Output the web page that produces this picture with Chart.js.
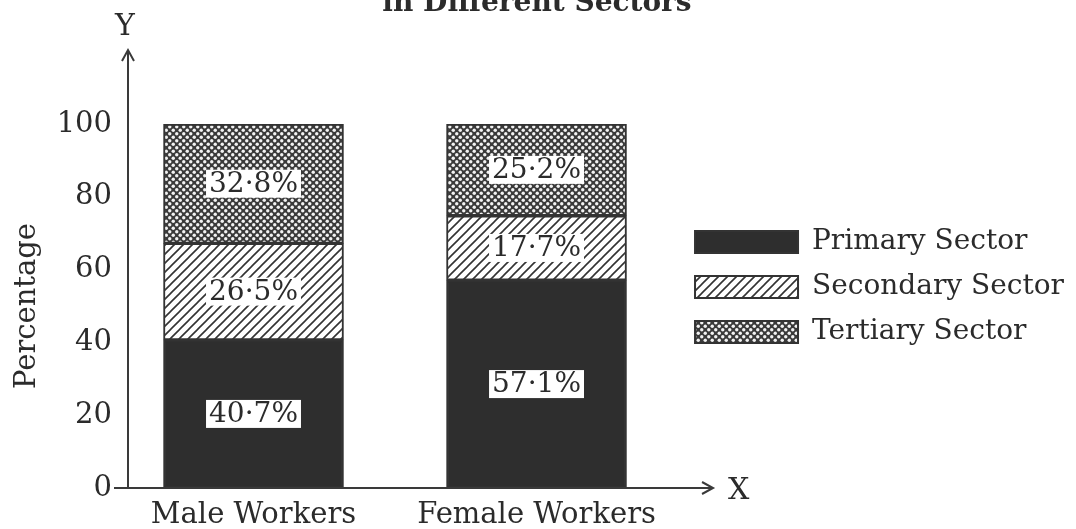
<!DOCTYPE html>
<html>
<head>
<meta charset="utf-8">
<script src="https://cdn.jsdelivr.net/npm/chart.js@4/dist/chart.umd.min.js"></script>
<style>
  html, body { margin: 0; padding: 0; background: #ffffff; overflow: hidden; }
  #wrap { position: relative; width: 1076px; height: 529px; overflow: hidden; }
  #chart { position: absolute; left: 0; top: -22px; }
</style>
</head>
<body>
<div id="wrap"><canvas id="chart" width="1076" height="555"></canvas></div>
<script>
const categories = ['Male Workers', 'Female Workers'];
const sectorNames = ['Primary Sector', 'Secondary Sector', 'Tertiary Sector'];
const primary = [40.7, 57.1];
const secondary = [26.5, 17.7];
const tertiary = [32.8, 25.2];
const yTicks = [0, 20, 40, 60, 80, 100];

const ink = '#2b2b2b';
const serif = 'DejaVu Serif, serif';
const axisGap = 16; // the drawn y axis sits a bit right of the plot's left edge

// fill patterns like the printed book
function makeTile(w, h, draw) {
  const c = document.createElement('canvas');
  c.width = w; c.height = h;
  draw(c.getContext('2d'), w, h);
  return c.getContext('2d').createPattern(c, 'repeat');
}

const hatch = makeTile(9, 9, (g, w, h) => {
  g.fillStyle = '#fff';
  g.fillRect(0, 0, w, h);
  g.strokeStyle = '#333';
  g.lineWidth = 1.6;
  g.beginPath();
  g.moveTo(-1, h + 1); g.lineTo(w + 1, -1);
  g.moveTo(-1, 1); g.lineTo(1, -1);
  g.moveTo(w - 1, h + 1); g.lineTo(w + 1, h - 1);
  g.stroke();
});

const dots = makeTile(7, 7, (g, w, h) => {
  g.fillStyle = '#3a3a3a';
  g.fillRect(0, 0, w, h);
  g.fillStyle = '#f2f2f2';
  [[1.75, 1.75], [5.25, 5.25]].forEach(([px, py]) => {
    g.beginPath(); g.arc(px, py, 1.7, 0, Math.PI * 2); g.fill();
  });
});

// arrows for the axes, plus the X and Y letters
const axesPlugin = {
  id: 'axes',
  afterDraw(chart) {
    const { ctx, chartArea, scales: { y } } = chart;
    const y0 = y.getPixelForValue(0);
    const left = chartArea.left + axisGap;
    const topTip = y.getPixelForValue(100) - 74;
    const rightTip = chartArea.right + 35;
    ctx.save();
    ctx.strokeStyle = '#3a3a3a';
    ctx.lineWidth = 2;
    ctx.beginPath();
    ctx.moveTo(left, y0); ctx.lineTo(left, topTip);
    ctx.moveTo(left - 6, topTip + 11); ctx.lineTo(left, topTip); ctx.lineTo(left + 6, topTip + 11);
    ctx.moveTo(left - 14, y0); ctx.lineTo(rightTip, y0);
    ctx.moveTo(rightTip - 11, y0 - 6); ctx.lineTo(rightTip, y0); ctx.lineTo(rightTip - 11, y0 + 6);
    ctx.stroke();
    ctx.fillStyle = ink;
    ctx.font = '30px ' + serif;
    ctx.textBaseline = 'middle';
    ctx.textAlign = 'center';
    ctx.fillText('Y', left - 3, topTip - 23);
    ctx.textAlign = 'left';
    ctx.fillText('X', rightTip + 15, y0 + 3);
    ctx.restore();
  }
};

// white boxed value labels in the middle of each segment
const labelPlugin = {
  id: 'segLabels',
  afterDatasetsDraw(chart) {
    const { ctx } = chart;
    ctx.save();
    ctx.font = '28px ' + serif;
    ctx.textAlign = 'center';
    ctx.textBaseline = 'middle';
    chart.data.datasets.forEach((ds, i) => {
      chart.getDatasetMeta(i).data.forEach((bar, j) => {
        const { x, y, base } = bar.getProps(['x', 'y', 'base'], true);
        const cy = (y + base) / 2;
        const txt = ds.data[j].toFixed(1).replace('.', '\u00b7') + '%';
        const w = ctx.measureText(txt).width + 6;
        ctx.fillStyle = '#ffffff';
        ctx.fillRect(x - w / 2, cy - 14, w, 28);
        ctx.fillStyle = ink;
        ctx.fillText(txt, x, cy + 1);
      });
    });
    ctx.restore();
  }
};

const barStyle = { borderColor: '#333', borderWidth: 2, borderSkipped: false, barThickness: 180 };

new Chart(document.getElementById('chart'), {
  type: 'bar',
  data: {
    labels: categories,
    datasets: [
      { label: sectorNames[0], data: primary, backgroundColor: '#2e2e2e', ...barStyle },
      { label: sectorNames[1], data: secondary, backgroundColor: hatch, ...barStyle },
      { label: sectorNames[2], data: tertiary, backgroundColor: dots, ...barStyle }
    ]
  },
  options: {
    responsive: false,
    animation: false,
    layout: { padding: { top: 9, right: 2, bottom: 0, left: 0 } },
    plugins: {
      title: {
        display: true,
        text: 'in Different Sectors',
        color: ink,
        font: { family: serif, size: 28, weight: 'bold' },
        padding: { top: 0, bottom: 103.4 }
      },
      legend: {
        position: 'right',
        align: 'start',
        maxWidth: 420,
        title: { display: true, text: '', font: { size: 10 }, padding: { top: 0, bottom: 212 } },
        labels: {
          boxWidth: 103,
          boxHeight: 22,
          padding: 17,
          color: ink,
          font: { family: serif, size: 28 }
        }
      },
      tooltip: { enabled: false }
    },
    scales: {
      x: {
        stacked: true,
        offset: true,
        grid: { display: false, drawTicks: false },
        border: { display: false },
        afterFit: s => { s.height = 45; },
        ticks: {
          padding: 10,
          autoSkip: false,
          maxRotation: 0,
          color: ink,
          font: { family: serif, size: 29 }
        }
      },
      y: {
        stacked: true,
        min: 0,
        max: 100,
        grid: { display: false, drawTicks: false },
        border: { display: false },
        afterBuildTicks: s => { s.ticks = yTicks.map(v => ({ value: v })); },
        afterFit: s => { s.width = 128 - axisGap; },
        ticks: { padding: 0, color: ink, font: { family: serif, size: 29 } },
        title: {
          display: true,
          text: 'Percentage',
          color: ink,
          font: { family: serif, size: 29 },
          padding: { top: 10, bottom: 0 }
        }
      }
    }
  },
  plugins: [axesPlugin, labelPlugin]
});
</script>
</body>
</html>
